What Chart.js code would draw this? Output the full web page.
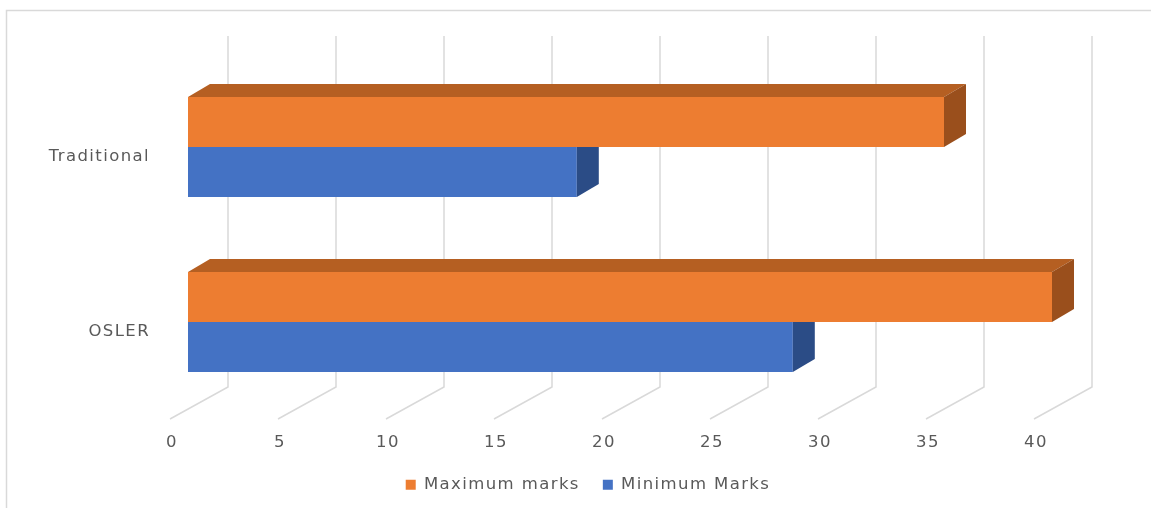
<!DOCTYPE html>
<html>
<head>
<meta charset="utf-8">
<script src="https://cdn.jsdelivr.net/npm/chart.js@4/dist/chart.umd.min.js"></script>
<style>
  html, body { margin: 0; padding: 0; background: #fff; }
  canvas { display: block; }
</style>
</head>
<body>
<canvas id="marksChart" width="1151" height="508"></canvas>
<script>
const categories = ["Traditional", "OSLER"];
const maximumMarks = [35, 40];
const minimumMarks = [18, 28];
const xTickValues = [0, 5, 10, 15, 20, 25, 30, 35, 40];

const textColor = "#595959";
const gridColor = "#d9d9d9";
const depthX = 22, depthY = 13;

// shades for the 3d faces, keyed by dataset index
const faceColors = [
  { top: "#b55f22", side: "#9a4f1c" },
  { top: "#31579a", side: "#2b4c86" }
];

const spacing = {
  id: "spacing",
  beforeUpdate(chart) { chart.ctx.letterSpacing = "1.4px"; },
  beforeDraw(chart) { chart.ctx.letterSpacing = "1.4px"; }
};

// legend sits centred under the plot, not the whole canvas
const legendSpot = {
  id: "legendSpot",
  afterLayout(chart) {
    chart.legend.left = 120;
    chart.legend.right = 1056;
  }
};

const frame = {
  id: "frame",
  beforeDraw(chart) {
    const ctx = chart.ctx;
    ctx.save();
    ctx.strokeStyle = gridColor;
    ctx.lineWidth = 1.5;
    ctx.beginPath();
    ctx.moveTo(6.5, 508);
    ctx.lineTo(6.5, 10.5);
    ctx.lineTo(1151, 10.5);
    ctx.stroke();
    ctx.restore();
  }
};

// back wall gridlines plus the floor diagonals
const wallGrid = {
  id: "wallGrid",
  beforeDatasetsDraw(chart) {
    const ctx = chart.ctx;
    const x = chart.scales.x;
    ctx.save();
    ctx.strokeStyle = gridColor;
    ctx.lineWidth = 1.5;
    xTickValues.forEach(v => {
      const px = x.getPixelForValue(v);
      ctx.beginPath();
      ctx.moveTo(px + 40, 36);
      ctx.lineTo(px + 40, 387);
      ctx.lineTo(px - 18, 419);
      ctx.stroke();
    });
    ctx.restore();
  }
};

const bars3d = {
  id: "bars3d",
  afterDatasetDraw(chart, args) {
    const ctx = chart.ctx;
    const c = faceColors[args.index];
    ctx.save();
    args.meta.data.forEach(el => {
      const p = el.getProps(["x", "y", "base", "height"], true);
      const top = p.y - p.height / 2;
      const bottom = p.y + p.height / 2;
      ctx.fillStyle = c.top;
      ctx.beginPath();
      ctx.moveTo(p.base, top);
      ctx.lineTo(p.base + depthX, top - depthY);
      ctx.lineTo(p.x + depthX, top - depthY);
      ctx.lineTo(p.x, top);
      ctx.closePath();
      ctx.fill();
      ctx.fillStyle = c.side;
      ctx.beginPath();
      ctx.moveTo(p.x, top);
      ctx.lineTo(p.x + depthX, top - depthY);
      ctx.lineTo(p.x + depthX, bottom - depthY);
      ctx.lineTo(p.x, bottom);
      ctx.closePath();
      ctx.fill();
    });
    ctx.restore();
  }
};

const font = { family: "DejaVu Sans", size: 16.5 };

new Chart(document.getElementById("marksChart"), {
  type: "bar",
  data: {
    labels: categories,
    datasets: [
      {
        label: "Maximum marks",
        data: maximumMarks,
        backgroundColor: "#ed7d31",
        borderWidth: 0
      },
      {
        label: "Minimum Marks",
        data: minimumMarks,
        backgroundColor: "#4472c4",
        borderWidth: 0
      }
    ]
  },
  options: {
    indexAxis: "y",
    responsive: false,
    animation: false,
    devicePixelRatio: 1,
    categoryPercentage: 100 / 175,
    barPercentage: 1,
    layout: {
      padding: { left: 24, right: 99, top: 59.5, bottom: 5 }
    },
    font: font,
    scales: {
      x: {
        min: 0,
        max: 40,
        afterBuildTicks: s => { s.ticks = xTickValues.map(v => ({ value: v })); },
        afterFit: s => { s.height = 44; },
        border: { display: false },
        grid: { display: false, drawTicks: false },
        ticks: {
          autoSkip: false,
          maxRotation: 0,
          color: textColor,
          padding: 23,
          labelOffset: -16,
          font: font
        }
      },
      y: {
        afterFit: s => { s.width = 164; },
        border: { display: false },
        grid: { display: false, drawTicks: false },
        ticks: {
          color: textColor,
          padding: 38,
          labelOffset: 10,
          font: font
        }
      }
    },
    plugins: {
      legend: {
        position: "bottom",
        labels: {
          boxWidth: 10,
          boxHeight: 10,
          padding: 23,
          color: textColor,
          font: font
        }
      },
      tooltip: { enabled: false }
    }
  },
  plugins: [spacing, legendSpot, frame, wallGrid, bars3d]
});
</script>
</body>
</html>
